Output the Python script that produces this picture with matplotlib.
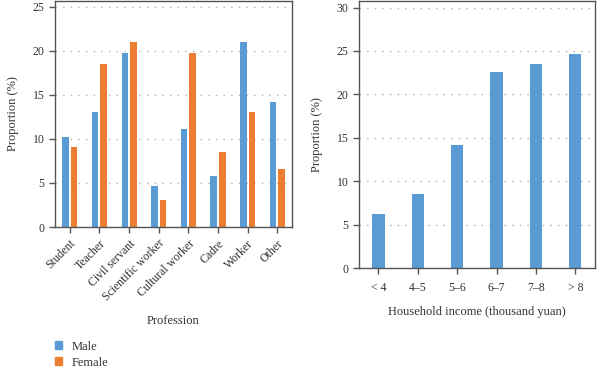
import matplotlib
matplotlib.use("Agg")
import matplotlib.pyplot as plt
from matplotlib.patches import Patch
import numpy as np

plt.rcParams['font.family'] = ['Liberation Serif', 'DejaVu Serif']

# profession data (left panel)
professions = ['Student', 'Teacher', 'Civil servant', 'Scientific worker',
               'Cultural worker', 'Cadre', 'Worker', 'Other']
male = [10.2, 13.1, 19.8, 4.6, 11.1, 5.8, 21.0, 14.2]
female = [9.1, 18.5, 21.0, 3.1, 19.8, 8.5, 13.1, 6.6]

# household income data (right panel)
income_labels = ['< 4', '4–5', '5–6', '6–7', '7–8', '> 8']
income_share = [6.2, 8.5, 14.2, 22.6, 23.5, 24.7]

blue = '#5b9bd5'
orange = '#ed7d31'
spine_col = '#555555'
text_col = '#333333'

fig = plt.figure(figsize=(6, 3.69), dpi=100)
ax1 = fig.add_axes([0.0917, 0.3848, 0.395, 0.6135])
ax2 = fig.add_axes([0.598, 0.2737, 0.3937, 0.7246])


def style(ax):
    for s in ax.spines.values():
        s.set_color(spine_col)
        s.set_linewidth(1.0)
    ax.tick_params(axis='both', direction='out', length=4, width=1,
                   color=spine_col, labelsize=8.5, labelcolor=text_col)
    ax.yaxis.grid(True, linestyle=(0, (1, 4.5)), color='#b0b0b0', linewidth=1)
    ax.set_axisbelow(True)
    ax.set_ylabel('Proportion (%)', fontsize=9, color=text_col, labelpad=10)


x = np.arange(len(professions))
w = 0.22
ax1.bar(x - 0.145, male, w, color=blue, label='Male')
ax1.bar(x + 0.145, female, w, color=orange, label='Female')
ax1.set_xlim(-0.5, len(professions) - 0.5)
ax1.set_ylim(0, 25.7)
ax1.set_yticks([0, 5, 10, 15, 20, 25])
ax1.set_xticks(x)
ax1.set_xticklabels(professions, rotation=45, ha='right', rotation_mode='anchor')
style(ax1)
ax1.set_xlabel('Profession', fontsize=9, color=text_col, labelpad=8)

x2 = np.arange(len(income_labels))
ax2.bar(x2, income_share, 0.31, color=blue)
ax2.set_xlim(-0.5, len(income_labels) - 0.5)
ax2.set_ylim(0, 30.8)
ax2.set_yticks([0, 5, 10, 15, 20, 25, 30])
ax2.set_xticks(x2)
ax2.set_xticklabels(income_labels)
style(ax2)
ax2.tick_params(axis='x', pad=6)
ax2.set_xlabel('Household income (thousand yuan)', fontsize=9, color=text_col, labelpad=9)

handles = [Patch(color=blue, label='Male'), Patch(color=orange, label='Female')]
fig.legend(handles=handles, loc='upper left', bbox_to_anchor=(0.077, 0.1),
           frameon=False, fontsize=9, handlelength=0.6, handleheight=0.6,
           handletextpad=0.7, labelspacing=0.3, labelcolor=text_col,
           borderpad=0.2)

fig.savefig('out.png', dpi=100)
